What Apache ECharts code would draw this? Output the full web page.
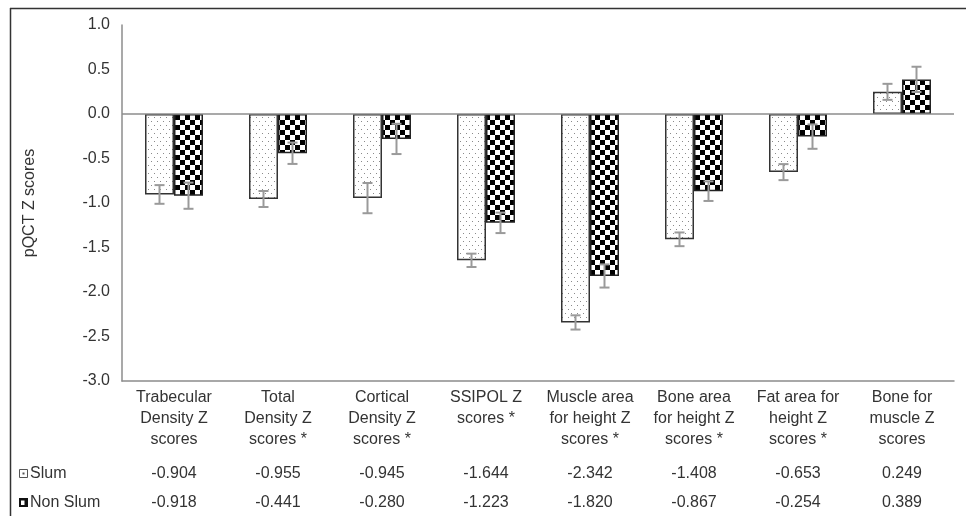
<!DOCTYPE html>
<html><head><meta charset="utf-8">
<script src="https://cdn.jsdelivr.net/npm/echarts@6/dist/echarts.min.js"></script>
<style>html,body{margin:0;padding:0;background:#fff}#c{width:966px;height:516px}</style>
</head><body><div id="c"></div>
<script>
const categories = [
  'Trabecular\nDensity Z\nscores',
  'Total\nDensity Z\nscores *',
  'Cortical\nDensity Z\nscores *',
  'SSIPOL Z\nscores *',
  'Muscle area\nfor height Z\nscores *',
  'Bone area\nfor height Z\nscores *',
  'Fat area for\nheight Z\nscores *',
  'Bone for\nmuscle Z\nscores'
];
const seriesNames = ['Slum', 'Non Slum'];
const slum = [-0.904, -0.955, -0.945, -1.644, -2.342, -1.408, -0.653, 0.249];
const nonSlum = [-0.918, -0.441, -0.280, -1.223, -1.820, -0.867, -0.254, 0.389];
const slumErr = [0.105, 0.09, 0.17, 0.075, 0.08, 0.077, 0.09, 0.09];
const nonSlumErr = [0.147, 0.12, 0.17, 0.115, 0.13, 0.11, 0.137, 0.142];
const yMin = -3, yMax = 1, yStep = 0.5;

const FONT = 'Liberation Sans, Arial, sans-serif';
const TXT = '#333';

function dotPattern() {
  const c = document.createElement('canvas');
  c.width = 6; c.height = 8;
  const g = c.getContext('2d');
  g.fillStyle = '#fff'; g.fillRect(0, 0, 6, 8);
  g.fillStyle = '#8a8a8a';
  g.fillRect(1, 1, 1, 1);
  g.fillRect(4, 5, 1, 1);
  return c;
}
function checkPattern() {
  const c = document.createElement('canvas');
  c.width = 10; c.height = 10;
  const g = c.getContext('2d');
  g.fillStyle = '#fff'; g.fillRect(0, 0, 10, 10);
  g.fillStyle = '#000';
  g.fillRect(0, 0, 5, 5);
  g.fillRect(5, 5, 5, 5);
  return c;
}

const BW = 29;
function errRender(offset) {
  return function (params, api) {
    const i = api.value(0), v = api.value(1), e = api.value(2);
    const hi = api.coord([i, v + e]);
    const lo = api.coord([i, v - e]);
    const x = hi[0] + offset;
    const cw = 5;
    const style = { stroke: '#9a9a9a', lineWidth: 2 };
    return {
      type: 'group', children: [
        { type: 'line', shape: { x1: x, y1: hi[1], x2: x, y2: lo[1] }, style },
        { type: 'line', shape: { x1: x - cw, y1: hi[1], x2: x + cw, y2: hi[1] }, style },
        { type: 'line', shape: { x1: x - cw, y1: lo[1], x2: x + cw, y2: lo[1] }, style }
      ]
    };
  };
}

const chart = echarts.init(document.getElementById('c'), null, { renderer: 'canvas' });
const valueAxisCommon = {
  type: 'category', data: null, position: 'bottom',
  axisLine: { show: false }, axisTick: { show: false },
  axisLabel: { margin: 0, fontSize: 16, fontFamily: FONT, color: TXT, lineHeight: 21, verticalAlign: 'top', interval: 0 }
};
chart.setOption({
  animation: false,
  textStyle: { fontFamily: FONT },
  grid: { left: 122, right: 12, top: 25, bottom: 135, containLabel: false },
  xAxis: [
    {
      type: 'category', data: categories, position: 'bottom',
      axisLine: { onZero: false, lineStyle: { color: '#8c8c8c', width: 1.5 } },
      axisTick: { show: false },
      axisLabel: { margin: 6, fontSize: 16, fontFamily: FONT, color: TXT, lineHeight: 21, interval: 0, verticalAlign: 'top' }
    },
    Object.assign({}, valueAxisCommon, { data: slum.map(v => v.toFixed(3)), offset: 82 }),
    Object.assign({}, valueAxisCommon, { data: nonSlum.map(v => v.toFixed(3)), offset: 111 })
  ],
  yAxis: {
    type: 'value', min: yMin, max: yMax, interval: yStep,
    name: 'pQCT Z scores', nameLocation: 'middle', nameGap: 84,
    nameTextStyle: { fontSize: 16, fontFamily: FONT, color: TXT },
    axisLine: { show: true, lineStyle: { color: '#8c8c8c', width: 1.5 } },
    axisTick: { show: false },
    splitLine: { show: false },
    axisLabel: { margin: 12, fontSize: 16, fontFamily: FONT, color: TXT, formatter: v => v.toFixed(1) }
  },
  series: [
    {
      name: seriesNames[0], type: 'bar', data: slum, barWidth: BW, barGap: '0%',
      itemStyle: { color: { image: dotPattern(), repeat: 'repeat' }, borderColor: '#333', borderWidth: 1.5 },
      markLine: {
        silent: true, symbol: 'none', label: { show: false },
        lineStyle: { color: '#8c8c8c', width: 1.5, type: 'solid' },
        data: [{ yAxis: 0 }]
      }
    },
    {
      name: seriesNames[1], type: 'bar', data: nonSlum, barWidth: BW, barGap: '0%',
      itemStyle: { color: { image: checkPattern(), repeat: 'repeat' }, borderColor: '#222', borderWidth: 1.5 }
    },
    {
      type: 'custom', z: 5, renderItem: errRender(-BW / 2), encode: { x: 0, y: 1 },
      data: slum.map((v, i) => [i, v, slumErr[i]])
    },
    {
      type: 'custom', z: 5, renderItem: errRender(BW / 2), encode: { x: 0, y: 1 },
      data: nonSlum.map((v, i) => [i, v, nonSlumErr[i]])
    }
  ],
  graphic: [
    { type: 'line', shape: { x1: 10.5, y1: 8, x2: 10.5, y2: 516 }, style: { stroke: '#333', lineWidth: 1.5 } },
    { type: 'line', shape: { x1: 10, y1: 8.5, x2: 966, y2: 8.5 }, style: { stroke: '#333', lineWidth: 1.5 } },
    { type: 'rect', shape: { x: 19.5, y: 469.5, width: 8, height: 8 }, style: { fill: '#fff', stroke: '#555', lineWidth: 1 } },
    { type: 'rect', shape: { x: 22.5, y: 472.5, width: 2, height: 2 }, style: { fill: '#555' } },
    { type: 'text', left: 30, top: 466, style: { text: seriesNames[0], font: '16px ' + FONT, fill: TXT } },
    { type: 'rect', shape: { x: 19, y: 498, width: 9, height: 9 }, style: { fill: '#111' } },
    { type: 'rect', shape: { x: 21, y: 500.5, width: 3.5, height: 4.5 }, style: { fill: '#fff' } },
    { type: 'text', left: 30, top: 495, style: { text: seriesNames[1], font: '16px ' + FONT, fill: TXT } }
  ]
});
</script></body></html>
